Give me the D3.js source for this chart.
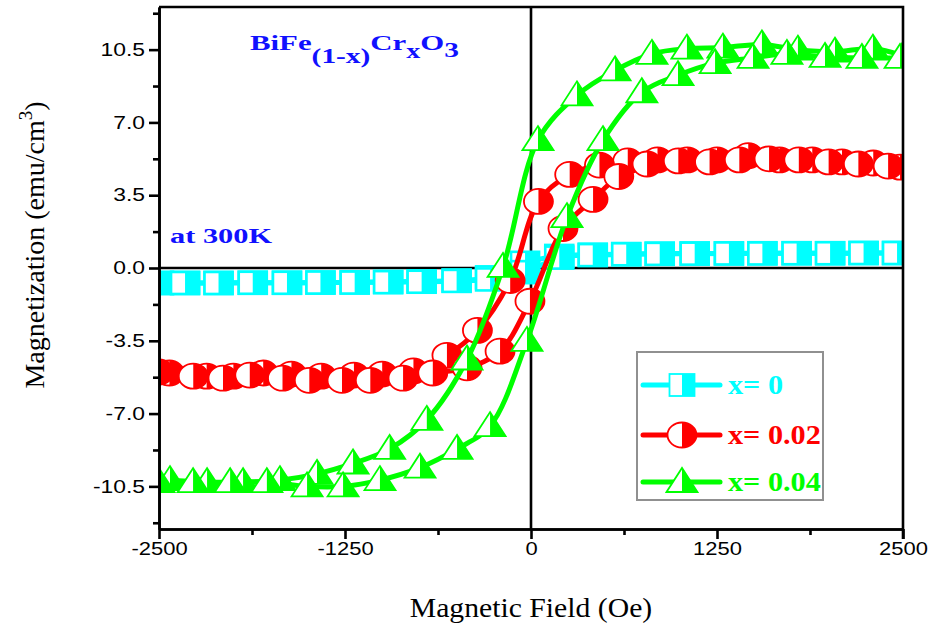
<!DOCTYPE html>
<html>
<head>
<meta charset="utf-8">
<script src="https://cdn.jsdelivr.net/npm/d3@7"></script>
<style>
    body { margin: 0; background: #fff; }
    svg { display: block; }
</style>
</head>
<body>
<div id="chart"></div>
<script>
// legend labels and colours
let seriesNames = ['x= 0', 'x= 0.02', 'x= 0.04'];
let seriesColors = ['#00ffff', '#ff0000', '#00ff00'];

let xTicks = [-2500, -1250, 0, 1250, 2500];
let xMinorTicks = [-1875, -625, 625, 1875];
let yTicks = [-10.5, -7.0, -3.5, 0.0, 3.5, 7.0, 10.5];
let yMinorTicks = [-12.25, -8.75, -5.25, -1.75, 1.75, 5.25, 8.75, 12.25];

// x = 0 : both branches measured at the same fields
let cyanField = [-2500, -2325, -2100, -1870, -1640, -1415, -1185, -960, -735, -500, -275, -40,
    190, 415, 640, 865, 1100, 1330, 1555, 1785, 2010, 2235, 2460];
let cyanUp = [-0.72, -0.72, -0.72, -0.71, -0.71, -0.70, -0.70, -0.68, -0.66, -0.62, -0.55, -0.20,
    0.50, 0.62, 0.66, 0.68, 0.69, 0.70, 0.70, 0.71, 0.71, 0.72, 0.72];
let cyanDown = [-0.72, -0.72, -0.72, -0.71, -0.71, -0.70, -0.69, -0.67, -0.64, -0.60, -0.45, 0.25,
    0.58, 0.64, 0.67, 0.69, 0.70, 0.70, 0.71, 0.71, 0.71, 0.72, 0.72];

// x = 0.02
let redDownField = [2480, 2300, 2090, 1890, 1670, 1460, 1250, 1050, 850, 650, 460, 260, 50,
    -140, -360, -565, -790, -1000, -1190, -1410, -1610, -1800, -2000, -2180, -2430];
let redDown = [4.85, 5.05, 5.10, 5.20, 5.20, 5.40, 5.20, 5.20, 5.20, 5.15, 4.95, 4.50, 3.20,
    -0.60, -3.00, -4.20, -4.95, -5.10, -5.15, -5.20, -5.10, -5.05, -5.20, -5.20, -5.05];
let redUpField = [-2500, -2270, -2070, -1890, -1670, -1490, -1270, -1080, -860, -660, -430, -208, -7,
    215, 417, 590, 780, 990, 1200, 1400, 1600, 1800, 2000, 2200, 2400];
let redUp = [-5.00, -5.20, -5.30, -5.15, -5.30, -5.40, -5.40, -5.40, -5.30, -5.05, -4.80, -4.00, -1.60,
    1.90, 3.30, 4.40, 5.00, 5.15, 5.10, 5.20, 5.25, 5.20, 5.10, 5.00, 4.90];

// x = 0.04
let greenDownField = [2500, 2298, 2043, 1794, 1552, 1290, 1048, 813, 565, 309, 47,
    -188, -430, -700, -950, -1196, -1438, -1687, -1935, -2177, -2426];
let greenDown = [10.20, 10.55, 10.40, 10.50, 10.75, 10.60, 10.55, 10.30, 9.50, 8.30, 6.15,
    0.05, -4.40, -7.30, -8.70, -9.40, -9.90, -10.20, -10.30, -10.30, -10.20];
let greenUpField = [-2500, -2271, -2022, -1775, -1505, -1263, -1015, -746, -497, -275, -27,
    242, 484, 745, 988, 1237, 1492, 1720, 1976, 2224, 2480];
let greenUp = [-10.30, -10.30, -10.30, -10.30, -10.50, -10.50, -10.20, -9.60, -8.70, -7.60, -3.50,
    2.45, 6.15, 8.45, 9.27, 9.85, 10.10, 10.30, 10.15, 10.10, 10.10];

let serif = '"Liberation Serif", "Times New Roman", serif';
let sans = '"Liberation Sans", Arial, sans-serif';

let width = 933;
let height = 629;
let frame = { left: 159, right: 903, top: 7, bottom: 529 };

function zip(hs, ms) {
    return hs.map(function(h, i) {
        return { h: h, m: ms[i] };
    });
}

let series = [
    { name: seriesNames[0], color: seriesColors[0], shape: 'square',
      branches: [zip(cyanField.slice().reverse(), cyanDown.slice().reverse()), zip(cyanField, cyanUp)] },
    { name: seriesNames[1], color: seriesColors[1], shape: 'circle',
      branches: [zip(redDownField, redDown), zip(redUpField, redUp)] },
    { name: seriesNames[2], color: seriesColors[2], shape: 'triangle',
      branches: [zip(greenDownField, greenDown), zip(greenUpField, greenUp)] }
];

let xScale = d3.scaleLinear().domain([-2500, 2500]).range([frame.left, frame.right]);
let yScale = d3.scaleLinear().domain([-12.55, 12.55]).range([frame.bottom, frame.top]);

let svg = d3.select('#chart')
    .append('svg')
    .attr('width', width)
    .attr('height', height);

// widen glyphs a bit, the original picture is stretched sideways
function stretch(sel, k) {
    sel.each(function() {
        let w = this.getComputedTextLength();
        d3.select(this)
            .attr('textLength', w * k)
            .attr('lengthAdjust', 'spacingAndGlyphs');
    });
}

// half filled markers, left half white
function marker(g, shape, color, big) {
    if (shape === 'square') {
        let w = big ? 14 : 12.5;
        g.append('rect').attr('x', -w).attr('y', -11).attr('width', 2 * w).attr('height', 22)
            .attr('fill', '#fff').attr('stroke', color).attr('stroke-width', big ? 2.6 : 1.8);
        g.append('rect').attr('x', 0).attr('y', -11).attr('width', w).attr('height', 22)
            .attr('fill', color);
    } else if (shape === 'circle') {
        g.append('ellipse').attr('rx', 14.5).attr('ry', 12.5)
            .attr('fill', '#fff').attr('stroke', color).attr('stroke-width', 1.8);
        g.append('path').attr('d', 'M0,-12.5 A14.5,12.5 0 0 1 0,12.5 Z')
            .attr('fill', color);
    } else {
        g.append('path').attr('d', 'M-15.5,10 L0,-14 L15.5,10 Z')
            .attr('fill', '#fff').attr('stroke', color).attr('stroke-width', 1.8)
            .attr('stroke-linejoin', 'miter');
        g.append('path').attr('d', 'M0,-14 L15.5,10 L0,10 Z')
            .attr('fill', color);
    }
}

svg.append('clipPath')
    .attr('id', 'plotClip')
    .append('rect')
    .attr('x', frame.left)
    .attr('y', frame.top)
    .attr('width', frame.right - frame.left)
    .attr('height', frame.bottom - frame.top);

// zero lines sit under the data
svg.append('line')
    .attr('x1', frame.left).attr('x2', frame.right)
    .attr('y1', yScale(0)).attr('y2', yScale(0))
    .attr('stroke', '#000').attr('stroke-width', 2.6);
svg.append('line')
    .attr('x1', xScale(0)).attr('x2', xScale(0))
    .attr('y1', frame.top).attr('y2', frame.bottom)
    .attr('stroke', '#000').attr('stroke-width', 2.6);

let line = d3.line()
    .x(function(d) { return xScale(d.h); })
    .y(function(d) { return yScale(d.m); })
    .curve(d3.curveCatmullRom.alpha(0.5));

let dataLayer = svg.append('g').attr('clip-path', 'url(#plotClip)');

series.forEach(function(s) {
    let g = dataLayer.append('g');

    s.branches.forEach(function(branch) {
        g.append('path')
            .datum(branch)
            .attr('d', line)
            .attr('fill', 'none')
            .attr('stroke', s.color)
            .attr('stroke-width', 5)
            .attr('stroke-linejoin', 'round');
    });

    s.branches.forEach(function(branch) {
        branch.forEach(function(d) {
            let m = g.append('g')
                .attr('transform', 'translate(' + xScale(d.h) + ',' + yScale(d.m) + ')');
            marker(m, s.shape, s.color, true);
        });
    });
});

// axes
let xAxis = svg.append('g')
    .attr('transform', 'translate(0,' + frame.bottom + ')')
    .call(d3.axisBottom(xScale)
        .tickValues(xTicks)
        .tickSize(10)
        .tickSizeOuter(0)
        .tickPadding(3)
        .tickFormat(function(d) { return String(d); }));

svg.append('g')
    .attr('transform', 'translate(0,' + frame.bottom + ')')
    .call(d3.axisBottom(xScale)
        .tickValues(xMinorTicks)
        .tickSize(6)
        .tickSizeOuter(0)
        .tickFormat(''));

let yAxis = svg.append('g')
    .attr('transform', 'translate(' + frame.left + ',0)')
    .call(d3.axisLeft(yScale)
        .tickValues(yTicks)
        .tickSize(10)
        .tickSizeOuter(0)
        .tickPadding(4)
        .tickFormat(function(d) { return d.toFixed(1); }));

svg.append('g')
    .attr('transform', 'translate(' + frame.left + ',0)')
    .call(d3.axisLeft(yScale)
        .tickValues(yMinorTicks)
        .tickSize(6)
        .tickSizeOuter(0)
        .tickFormat(''));

svg.selectAll('.domain, .tick line')
    .attr('stroke', '#000')
    .attr('stroke-width', 2.6);

svg.selectAll('.tick text')
    .attr('font-family', sans)
    .attr('font-size', 18)
    .attr('fill', '#000');
stretch(xAxis.selectAll('.tick text'), 1.22);
stretch(yAxis.selectAll('.tick text'), 1.27);

// top and right sides of the frame
svg.append('path')
    .attr('d', 'M' + frame.left + ',' + frame.top + 'H' + frame.right + 'V' + (frame.bottom + 10))
    .attr('fill', 'none')
    .attr('stroke', '#000')
    .attr('stroke-width', 2.6);

// axis titles
let xTitle = svg.append('text')
    .attr('x', (frame.left + frame.right) / 2)
    .attr('y', 617)
    .attr('text-anchor', 'middle')
    .attr('font-family', serif)
    .attr('font-size', 27)
    .text('Magnetic Field (Oe)');
stretch(xTitle, 1.1);

let yTitle = svg.append('text')
    .attr('transform', 'translate(44,245) rotate(-90)')
    .attr('text-anchor', 'middle')
    .attr('font-family', serif)
    .attr('font-size', 28);
yTitle.append('tspan').text('Magnetization (emu/cm');
yTitle.append('tspan').attr('dy', -12).attr('font-size', 19).text('3');
yTitle.append('tspan').attr('dy', 12).text(')');

// compound name and temperature
let title = svg.append('text')
    .attr('x', 250)
    .attr('y', 50)
    .attr('font-family', serif)
    .attr('font-weight', 'bold')
    .attr('font-size', 22)
    .attr('fill', '#1010ff');
title.append('tspan').text('BiFe');
title.append('tspan').attr('dy', 13).attr('font-size', 21).text('(1-x)');
title.append('tspan').attr('dy', -13).text('Cr');
title.append('tspan').attr('dy', 8).attr('font-size', 20).text('x');
title.append('tspan').attr('dy', -8).text('O');
title.append('tspan').attr('dy', 7).attr('font-size', 21).text('3');
stretch(title, 1.4);

let tempLabel = svg.append('text')
    .attr('x', 170)
    .attr('y', 243)
    .attr('font-family', serif)
    .attr('font-weight', 'bold')
    .attr('font-size', 22)
    .attr('fill', '#1010ff')
    .text('at 300K');
stretch(tempLabel, 1.38);

// legend
let legend = svg.append('g');

legend.append('rect')
    .attr('x', 637)
    .attr('y', 352)
    .attr('width', 186)
    .attr('height', 148)
    .attr('fill', '#fff')
    .attr('stroke', '#909090')
    .attr('stroke-width', 2);

let legendRows = [385, 435, 482];

series.forEach(function(s, i) {
    let row = legend.append('g')
        .attr('transform', 'translate(0,' + legendRows[i] + ')');

    row.append('line')
        .attr('x1', 643).attr('x2', 720)
        .attr('stroke', s.color)
        .attr('stroke-width', 5)
        .attr('stroke-linecap', 'round');

    let m = row.append('g').attr('transform', 'translate(682,0)');
    marker(m, s.shape, s.color, false);

    let label = row.append('text')
        .attr('x', 728)
        .attr('y', 9)
        .attr('font-family', serif)
        .attr('font-weight', 'bold')
        .attr('font-size', 27)
        .attr('fill', s.color)
        .text(s.name);
    stretch(label, 1.12);
});
</script>
</body>
</html>
